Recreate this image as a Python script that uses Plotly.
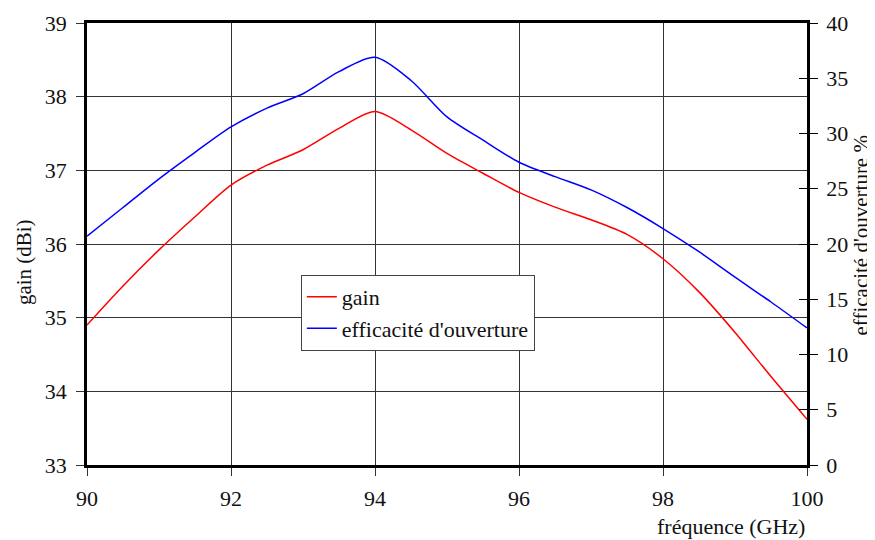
import plotly.graph_objects as go

freq = [90, 90.5, 91, 91.5, 92, 92.5, 93, 93.5, 94, 94.5, 95, 95.5, 96, 96.5, 97, 97.5, 98, 98.5, 99, 99.5, 100]
gain_dbi = [34.9, 35.43, 35.92, 36.37, 36.8, 37.07, 37.28, 37.57, 37.8, 37.55, 37.23, 36.96, 36.7, 36.5, 36.33, 36.13, 35.8, 35.35, 34.8, 34.2, 33.62]
efficacite = [20.7, 23.3, 25.9, 28.3, 30.6, 32.3, 33.6, 35.6, 36.9, 34.8, 31.5, 29.4, 27.4, 26.1, 24.9, 23.3, 21.4, 19.3, 17.0, 14.75, 12.4]

x_ticks = [90, 92, 94, 96, 98, 100]
gain_ticks = [33, 34, 35, 36, 37, 38, 39]
eff_ticks = [0, 5, 10, 15, 20, 25, 30, 35, 40]

FONT = "Liberation Serif"
TXT = "#111111"

fig = go.Figure()
fig.add_trace(go.Scatter(x=freq, y=gain_dbi, name="gain", mode="lines",
                         line=dict(color="#ff0000", width=1.5, shape="spline", smoothing=0.8)))
fig.add_trace(go.Scatter(x=freq, y=efficacite, name="efficacité d'ouverture", mode="lines",
                         yaxis="y2", line=dict(color="#0000ff", width=1.5, shape="spline", smoothing=0.8)))
# invisible trace to activate the inside-tick overlay axis
fig.add_trace(go.Scatter(x=[None], y=[None], yaxis="y3", showlegend=False, hoverinfo="skip"))

tickfont = dict(family=FONT, size=22, color=TXT)

# the page body adds an 8px offset, so the figure is 8px smaller than the window
fig.update_layout(
    width=867, height=532,
    margin=dict(l=79, r=68, t=15, b=75),
    paper_bgcolor="white", plot_bgcolor="white",
    font=dict(family=FONT, color=TXT, size=22),
    showlegend=True,
    legend=dict(x=0.297, y=0.43, xanchor="left", yanchor="top",
                bordercolor="#444", borderwidth=1, bgcolor="white",
                font=dict(family=FONT, size=22, color=TXT), tracegroupgap=0, itemwidth=30),
    xaxis=dict(range=[90, 100], tickvals=x_ticks, ticktext=[str(v) for v in x_ticks],
               showgrid=True, gridcolor="#333", gridwidth=1,
               showline=True, linecolor="black", linewidth=2.5, mirror=True,
               ticks="outside", ticklen=8, tickcolor="#333", tickwidth=1,
               ticklabelstandoff=4,
               tickfont=tickfont, zeroline=False, automargin=False),
    yaxis=dict(range=[33, 39], tickvals=gain_ticks, ticktext=[str(v) for v in gain_ticks],
               showgrid=True, gridcolor="#333", gridwidth=1,
               showline=True, linecolor="black", linewidth=2.5, mirror=True,
               ticks="outside", ticklen=8, tickcolor="#333", tickwidth=1,
               ticklabelstandoff=5,
               tickfont=tickfont, zeroline=False, automargin=False),
    yaxis2=dict(range=[0, 40], tickvals=eff_ticks, ticktext=[str(v) for v in eff_ticks],
                overlaying="y", side="right", showgrid=False,
                showline=True, linecolor="black", linewidth=2.5,
                ticks="outside", ticklen=8, tickcolor="black", tickwidth=1,
                ticklabelstandoff=4,
                tickfont=tickfont, zeroline=False, automargin=False),
    yaxis3=dict(range=[0, 40], tickvals=eff_ticks, overlaying="y", side="right",
                showgrid=False, showticklabels=False, showline=False,
                ticks="inside", ticklen=8, tickcolor="black", tickwidth=1,
                zeroline=False, automargin=False),
)

fig.add_annotation(text="gain (dBi)", xref="paper", yref="paper", x=-0.0875, y=0.459,
                   xanchor="center", yanchor="middle", textangle=-90, showarrow=False,
                   font=dict(family=FONT, size=21, color=TXT))
fig.add_annotation(text="efficacité d'ouverture %", xref="paper", yref="paper", x=1.0755, y=0.52,
                   xanchor="center", yanchor="middle", textangle=-90, showarrow=False,
                   font=dict(family=FONT, size=21, color=TXT))
fig.add_annotation(text="fréquence (GHz)", xref="paper", yref="paper", x=1.0, y=-0.14,
                   xanchor="right", yanchor="middle", showarrow=False,
                   font=dict(family=FONT, size=22, color=TXT))

fig.write_html("out.html")
